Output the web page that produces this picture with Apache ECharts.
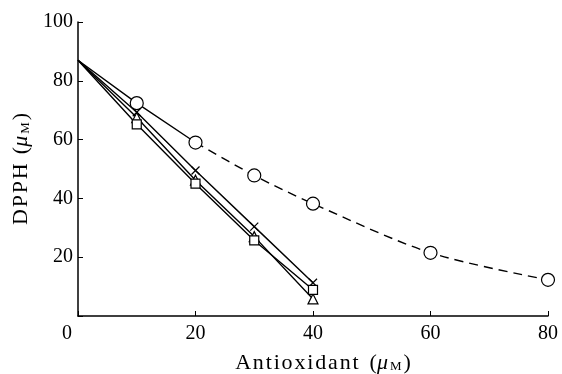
<!DOCTYPE html>
<html>
<head>
<meta charset="utf-8">
<script src="https://cdn.jsdelivr.net/npm/echarts@6/dist/echarts.min.js"></script>
<style>
  html, body { margin: 0; padding: 0; background: #fff; }
  #chart { width: 562px; height: 374px; }
</style>
</head>
<body>
<div id="chart"></div>
<script>
// values (x = antioxidant uM, y = DPPH uM)
const circleSolid = [[0, 87], [10, 72.4], [20, 59]]
const circleDashed = [[20, 59], [30, 47.8], [40, 38.2], [60, 21.5], [80, 12.3]]
const crossPts = [[0, 87], [10, 69.3], [20, 49.5], [30, 30.4], [40, 11.3]]
const trianglePts = [[0, 87], [10, 67.5], [20, 46.2], [30, 27], [40, 5.8]]
const squarePts = [[0, 87], [10, 65.2], [20, 45], [30, 25.7], [40, 8.9]]
const xTicks = [0, 20, 40, 60, 80]
const yTicks = [0, 20, 40, 60, 80, 100]

const font = 'Liberation Serif'
const crossPath = 'path://M0,0L10,10M10,0L0,10'
const hs = '\u200A'
const spaced = s => s.split('').join(hs)

let myChart = echarts.init(document.getElementById('chart'))

const rich = {
  t: { fontFamily: font, fontSize: 22, color: '#000' },
  i: { fontFamily: font, fontSize: 22, fontStyle: 'italic', color: '#000' },
  s: { fontFamily: font, fontSize: 13, color: '#000', padding: [8, 2, 0, 2] }
}

function lineSeries (data, symbol, size, dashed, smooth) {
  return {
    type: 'line',
    data: data,
    symbol: symbol,
    symbolSize: size,
    smooth: smooth ? 0.3 : false,
    showSymbol: symbol !== 'none',
    lineStyle: { color: '#000', width: 1.4, type: dashed ? [9, 6] : 'solid' },
    itemStyle: { color: '#fff', borderColor: '#000', borderWidth: 1.2 },
    z: symbol === 'none' ? 2 : 3,
    animation: false
  }
}

let opt = {
  backgroundColor: '#fff',
  grid: { left: 78, right: 14, top: 22, bottom: 58, outerBoundsMode: 'none', containLabel: false },
  xAxis: {
    type: 'value',
    min: 0,
    max: 80,
    interval: 20,
    name: '{t|' + spaced('Antioxidant') + hs + hs + ' ' + hs + '(}{i|μ}{s|M}{t|)}',
    nameLocation: 'middle',
    nameGap: 36,
    nameTextStyle: { fontFamily: font, fontSize: 22, color: '#000', rich: rich, padding: [0, 0, 0, 20] },
    axisLine: { lineStyle: { color: '#000', width: 1.5 } },
    axisTick: { inside: true, length: 5, lineStyle: { color: '#000', width: 1 } },
    splitLine: { show: false },
    axisLabel: {
      fontFamily: font,
      fontSize: 20,
      color: '#000',
      margin: 8,
      formatter: v => xTicks.indexOf(v) === 0 ? '{o|0}' : String(v),
      rich: { o: { fontFamily: font, fontSize: 20, color: '#000', padding: [0, 22, 0, 0] } }
    }
  },
  yAxis: {
    type: 'value',
    min: 0,
    max: 100,
    interval: 20,
    name: '{t|' + spaced('DPPH') + hs + ' ' + hs + '(}{i|μ}{s|M}{t|)}',
    nameLocation: 'middle',
    nameGap: 40,
    nameRotate: 90,
    nameTextStyle: { fontFamily: font, fontSize: 22, color: '#000', rich: rich },
    axisLine: { show: true, lineStyle: { color: '#000', width: 1.5 } },
    axisTick: { show: true, inside: true, length: 5, lineStyle: { color: '#000', width: 1 } },
    splitLine: { show: false },
    axisLabel: {
      fontFamily: font,
      fontSize: 20,
      color: '#000',
      margin: 5,
      formatter: v => (v === yTicks[0] ? '' : String(v))
    }
  },
  series: [
    lineSeries(circleSolid, 'none', 0, false, false),
    lineSeries(circleDashed, 'none', 0, true, true),
    lineSeries(crossPts, 'none', 0, false, false),
    lineSeries(trianglePts, 'none', 0, false, false),
    lineSeries(squarePts, 'none', 0, false, false),
    Object.assign(lineSeries(circleSolid.slice(1).concat(circleDashed.slice(1)), 'circle', 13, false, false), { lineStyle: { width: 0 } }),
    Object.assign(lineSeries(crossPts.slice(1), crossPath, 8, false, false), { lineStyle: { width: 0 } }),
    Object.assign(lineSeries(trianglePts.slice(1), 'triangle', 10, false, false), { lineStyle: { width: 0 } }),
    Object.assign(lineSeries(squarePts.slice(1), 'rect', 9, false, false), { lineStyle: { width: 0 } })
  ]
}

myChart.setOption(opt, true)
</script>
</body>
</html>
